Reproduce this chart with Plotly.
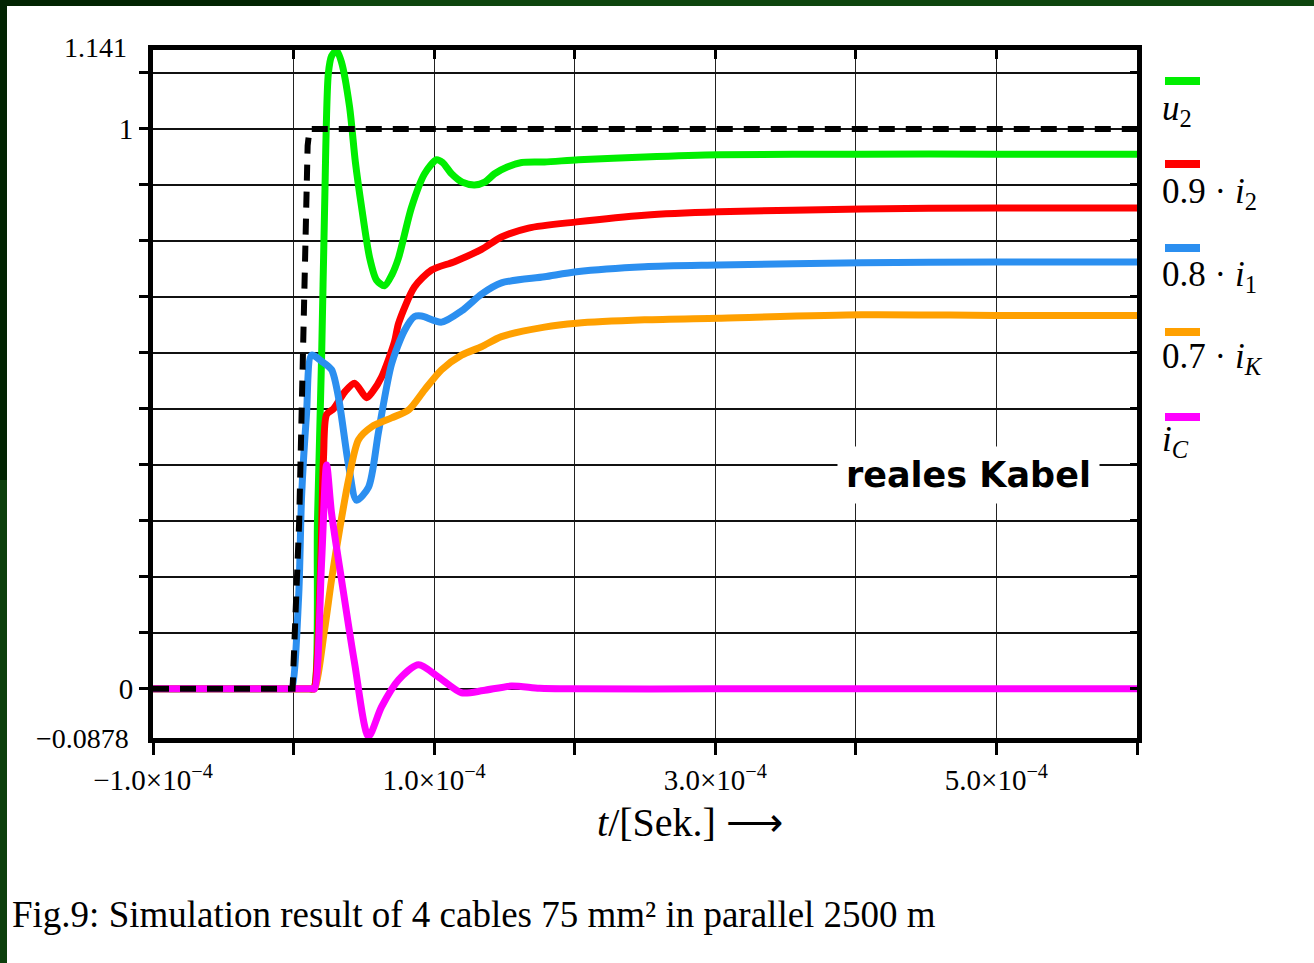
import plotly.graph_objects as go

# ---- data (time in microseconds) ----
t_u2 = [-100, -50, 0, 11, 14.2, 17, 20, 22, 24.7, 27, 30.6, 34, 39.8, 44, 48.4, 54.1, 59, 64.7, 70, 74.7, 83.9,
        93.2, 101.7, 106, 112.4, 120, 128.7, 136, 143, 152, 162.2, 178.5, 202.7, 249.6, 302.3, 404, 500, 600]
u2 = [0, 0, 0, 0, 0, 0.3, 0.6, 0.85, 1.098, 1.13, 1.14, 1.12, 1.04, 0.94, 0.86, 0.77, 0.73, 0.72, 0.74, 0.77,
      0.86, 0.92, 0.945, 0.94, 0.92, 0.905, 0.9, 0.905, 0.92, 0.932, 0.94, 0.941, 0.945, 0.95, 0.954, 0.955,
      0.955, 0.955]

t_i2 = [-100, -50, 0, 12, 14.2, 19, 21.3, 23.5, 28.4, 36.3, 43.4, 51.9, 56, 62.6, 71.8, 74.7, 86.1, 98.2,
        114.5, 133.7, 147.9, 167.1, 201.3, 249.6, 302.3, 404, 500, 600]
i2_09 = [0, 0, 0, 0, 0, 0.2, 0.414, 0.49, 0.50, 0.53, 0.546, 0.52, 0.53, 0.557, 0.62, 0.653, 0.718, 0.748,
         0.763, 0.785, 0.807, 0.823, 0.834, 0.846, 0.852, 0.857, 0.859, 0.859]

t_i1 = [-100, -50, -3, -1.4, 3.6, 5.7, 9.2, 12.8, 20, 27, 32, 39.1, 44.8, 53.3, 60.5, 69.7, 78.9, 86.1, 91,
        105.3, 119.5, 133.7, 147.9, 178.5, 201.3, 249.6, 302.3, 404, 500, 600]
i1_08 = [0, 0, 0, 0, 0.164, 0.343, 0.49, 0.596, 0.585, 0.57, 0.52, 0.40, 0.337, 0.36, 0.46, 0.58, 0.64, 0.665,
         0.666, 0.655, 0.675, 0.705, 0.725, 0.736, 0.745, 0.754, 0.757, 0.761, 0.7625, 0.7625]

t_iK = [-100, -50, 0, 13, 14.9, 22, 27, 32.7, 39.1, 46.2, 55.5, 69.7, 81.8, 93.2, 105.3, 119.5, 133.7, 147.9,
        178.5, 201.3, 249.6, 302.3, 404, 500, 600]
iK_07 = [0, 0, 0, 0, 0, 0.105, 0.195, 0.284, 0.373, 0.445, 0.468, 0.484, 0.498, 0.534, 0.57, 0.596, 0.611,
         0.629, 0.646, 0.653, 0.659, 0.662, 0.668, 0.667, 0.667]

t_iC = [-100, -50, 0, 13, 14.9, 19.9, 23.5, 27, 34.1, 43.4, 53.3, 62.6, 74.7, 88.9, 103.1, 119.5, 135, 155,
        175, 200, 300, 400, 500, 600]
iC = [0, 0, 0, 0, 0, 0.225, 0.40, 0.314, 0.195, 0.046, -0.085, -0.032, 0.016, 0.043, 0.021, -0.007, -0.003,
      0.005, 0.001, 0, 0, 0, 0, 0]

t_in = [-100, -0.7, 4, 7, 10, 11.4, 600]
u_in = [0, 0, 0.3, 0.62, 0.97, 1.0, 1.0]

x_tickvals_us = [-100, 0, 100, 200, 300, 400, 500, 600]
x_ticktext = ["\u22121.0\u00d710<sup>\u22124</sup>", "", "1.0\u00d710<sup>\u22124</sup>", "",
              "3.0\u00d710<sup>\u22124</sup>", "", "5.0\u00d710<sup>\u22124</sup>", ""]
y_tickvals = [0, 0.1, 0.2, 0.3, 0.4, 0.5, 0.6, 0.7, 0.8, 0.9, 1.0, 1.1]
y_ticktext = ["0", "", "", "", "", "", "", "", "", "", "1", ""]
y_min, y_max = -0.0878, 1.141
x_min_us, x_max_us = -100, 600

series = [
    ("u2", t_u2, u2, "#00ee00"),
    ("0.9 i2", t_i2, i2_09, "#ff0000"),
    ("0.8 i1", t_i1, i1_08, "#2b8ff0"),
    ("0.7 iK", t_iK, iK_07, "#ffa000"),
    ("iC", t_iC, iC, "#ff00ff"),
]
legend_labels = ["<i>u</i><sub>2</sub>", "0.9 \u00b7 <i>i</i><sub>2</sub>", "0.8 \u00b7 <i>i</i><sub>1</sub>",
                 "0.7 \u00b7 <i>i</i><sub><i>K</i></sub>", "<i>i</i><sub><i>C</i></sub>"]

US = 1e-6
SERIF = "Liberation Serif, Times New Roman, serif"

fig = go.Figure()
for name, tx, vy, col in series:
    fig.add_trace(go.Scatter(x=[v * US for v in tx], y=vy, mode="lines", name=name,
                             line=dict(color=col, width=7, shape="spline", smoothing=0.75),
                             showlegend=False, hoverinfo="skip"))
fig.add_trace(go.Scatter(x=[v * US for v in t_in], y=u_in, mode="lines", name="input",
                         line=dict(color="black", width=6, dash="16px,11px"),
                         showlegend=False, hoverinfo="skip"))
# empty trace to activate the mirrored (inside-tick) axes
fig.add_trace(go.Scatter(x=[], y=[], xaxis="x2", yaxis="y2", showlegend=False, hoverinfo="skip"))

W, H = 1314, 963
L, R, T, B = 153, 1137, 50, 738

fig.update_layout(
    width=W, height=H, autosize=False,
    margin=dict(l=L, r=W - R, t=T, b=H - B),
    paper_bgcolor="white", plot_bgcolor="white",
    font=dict(family=SERIF, color="black", size=24),
    xaxis=dict(range=[x_min_us * US, x_max_us * US], tickmode="array",
               tickvals=[v * US for v in x_tickvals_us], ticktext=x_ticktext,
               ticks="outside", ticklen=12, tickwidth=3, tickcolor="black",
               showgrid=True, gridcolor="#222", gridwidth=1.3,
               showline=True, linecolor="black", linewidth=5, mirror=True,
               zeroline=False, tickfont=dict(family=SERIF, size=29)),
    yaxis=dict(range=[y_min, y_max], tickmode="array", tickvals=y_tickvals, ticktext=y_ticktext,
               ticks="outside", ticklen=9, tickwidth=3, tickcolor="black",
               showgrid=True, gridcolor="#111", gridwidth=1.6,
               showline=True, linecolor="black", linewidth=5, mirror=True,
               zeroline=False, tickfont=dict(family=SERIF, size=29)),
    xaxis2=dict(range=[x_min_us * US, x_max_us * US], overlaying="x", side="top", anchor="y",
                tickmode="array", tickvals=[v * US for v in x_tickvals_us], showticklabels=False,
                ticks="inside", ticklen=9, tickwidth=3, tickcolor="black",
                showgrid=False, showline=False, zeroline=False),
    yaxis2=dict(range=[y_min, y_max], overlaying="y", side="right", anchor="x",
                tickmode="array", tickvals=y_tickvals, showticklabels=False,
                ticks="inside", ticklen=7, tickwidth=3, tickcolor="black",
                showgrid=False, showline=False, zeroline=False),
)


def px(xp):
    return (xp - L) / (R - L)


def py(yp):
    return (B - yp) / (B - T)


# extreme y labels
fig.add_annotation(x=px(129), y=y_max, xref="paper", yref="y", text="1.141", showarrow=False,
                   xanchor="right", yanchor="middle", font=dict(family=SERIF, size=28), yshift=3)
fig.add_annotation(x=px(131), y=y_min, xref="paper", yref="y", text="\u22120.0878", showarrow=False,
                   xanchor="right", yanchor="middle", font=dict(family=SERIF, size=28))

# axis title
fig.add_annotation(x=px(690), y=py(822), xref="paper", yref="paper",
                   text="<i>t</i>/[Sek.] \u27f6", showarrow=False,
                   font=dict(family=SERIF, size=40), xanchor="center", yanchor="middle")

# inset label
fig.add_annotation(x=480 * US, y=0.382, xref="x", yref="y", text="<b>reales Kabel</b>", showarrow=False,
                   font=dict(family="DejaVu Sans, Liberation Sans, sans-serif", size=35, color="black"),
                   bgcolor="white", borderpad=8, xanchor="center", yanchor="middle")

# custom legend: swatch above label
sw_y = [81, 164, 248, 332, 417]
lab_y = [110, 193, 276, 358, 441]
for (name, tx, vy, col), lab, sy, ly in zip(series, legend_labels, sw_y, lab_y):
    fig.add_shape(type="line", xref="paper", yref="paper", x0=px(1165), x1=px(1200),
                  y0=py(sy), y1=py(sy), line=dict(color=col, width=8))
    fig.add_annotation(x=px(1160), y=py(ly), xref="paper", yref="paper", text=lab, showarrow=False,
                       xanchor="left", yanchor="middle", font=dict(family=SERIF, size=35))

# caption
fig.add_annotation(x=px(10), y=py(914), xref="paper", yref="paper",
                   text="Fig.9: Simulation result of 4 cables 75 mm\u00b2 in parallel 2500 m",
                   showarrow=False, xanchor="left", yanchor="middle",
                   font=dict(family=SERIF, size=37))

# dark green page border (top and left bands)
fig.add_shape(type="rect", xref="paper", yref="paper", x0=px(0), x1=px(320), y0=py(6), y1=py(0),
              fillcolor="#022402", line=dict(width=0), layer="below")
fig.add_shape(type="rect", xref="paper", yref="paper", x0=px(320), x1=px(W), y0=py(6), y1=py(0),
              fillcolor="#0e450e", line=dict(width=0), layer="below")
fig.add_shape(type="rect", xref="paper", yref="paper", x0=px(0), x1=px(7), y0=py(480), y1=py(0),
              fillcolor="#022402", line=dict(width=0), layer="below")
fig.add_shape(type="rect", xref="paper", yref="paper", x0=px(0), x1=px(7), y0=py(H), y1=py(480),
              fillcolor="#0c3f0c", line=dict(width=0), layer="below")

fig.write_html("out.html", config={"displayModeBar": False},
               post_script="document.body.style.margin='0px';")
